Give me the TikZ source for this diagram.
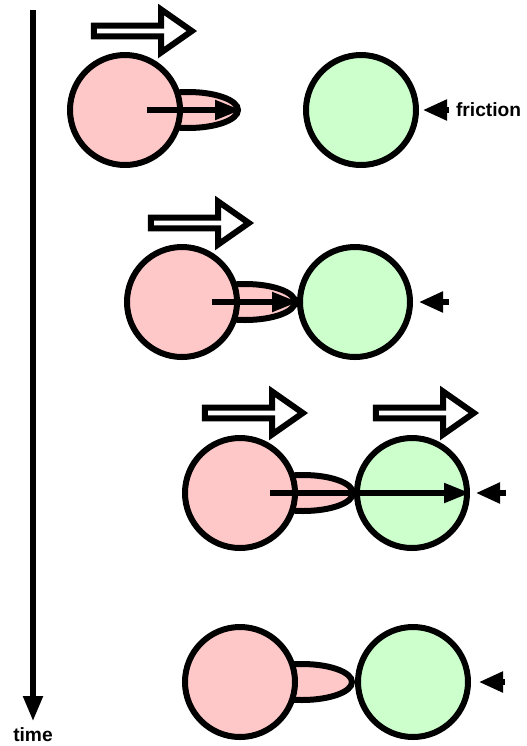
\documentclass[tikz,border=0pt]{standalone}
\usepackage{fontspec}
\setsansfont{Liberation Sans}
\usepackage{tikz}
\usetikzlibrary{arrows.meta,positioning,shapes.geometric,shapes.arrows}
\definecolor{moving}{HTML}{FFC8C8}
\definecolor{resting}{HTML}{CCFFCC}

\begin{document}
\begin{tikzpicture}[x=0.5pt, y=-0.5pt,
    ball/.style={circle, draw, line width=3pt, minimum size=55pt, inner sep=0pt},
    tail/.style={ellipse, draw, line width=3pt, fill=moving, minimum width=50pt, minimum height=18pt, inner sep=0pt},
    motion/.style={single arrow, draw, line width=3pt, fill=white, minimum height=49pt, minimum width=21.5pt,
        single arrow head extend=4.5pt, single arrow tip angle=70, inner sep=0pt},
    push/.style={line width=2.6pt, -{Triangle[length=13pt,width=9.5pt]}},
    fric/.style={line width=2.6pt, -{Triangle[length=12pt,width=10pt]}, shorten >=2pt},
    lbl/.style={font=\sffamily\bfseries\fontsize{9.6}{11}\selectfont}]
    \useasboundingbox (0,0) rectangle (526,746);
    % time axis
    \coordinate (t0) at (33,10);
    \node[lbl, anchor=north, inner sep=0pt] (tm) at (33,727) {time};
    \draw[line width=2.6pt, -{Triangle[length=12.5pt,width=9.5pt]}, shorten >=3pt] (t0) -- (tm);
    % row 1
    \node[tail] (e1) at (188,110) {};
    \node[ball, fill=moving] (p1) at (125,110) {};
    \node[ball, fill=resting] (g1) at (361,110) {};
    \node[motion] (m1) at (139,31) {};
    \coordinate (a1) at (147,110);
    \draw[push] (a1) -- (e1.east);
    \coordinate[right=15pt of g1.east] (f1);
    \draw[fric] (f1) -- (g1);
    \node[lbl, right=0pt of f1] (fr) {friction};
    % row 2
    \node[tail] (e2) at (245,302) {};
    \node[ball, fill=moving] (p2) at (182,302) {};
    \node[ball, fill=resting] (g2) at (355,302) {};
    \node[motion] (m2) at (196,223) {};
    \coordinate (a2) at (212,302);
    \draw[push] (a2) -- (e2.east);
    \coordinate[right=18pt of g2.east] (f2);
    \draw[fric, shorten >=3pt] (f2) -- (g2);
    % row 3
    \node[tail] (e3) at (303,493) {};
    \node[ball, fill=moving] (p3) at (240,493) {};
    \node[ball, fill=resting] (g3) at (412,493) {};
    \node[motion] (m3) at (250,413) {};
    \node[motion] (n3) at (421,413) {};
    \coordinate (a3) at (270,493);
    \draw[push] (a3) -- (g3.east);
    \coordinate[right=18pt of g3.east] (f3);
    \draw[fric, shorten >=3pt] (f3) -- (g3);
    % row 4
    \node[tail] (e4) at (302,682) {};
    \node[ball, fill=moving] (p4) at (240,682) {};
    \node[ball, fill=resting] (g4) at (413,682) {};
    \coordinate[right=17pt of g4.east] (f4);
    \draw[fric, shorten >=4pt] (f4) -- (g4);
\end{tikzpicture}
\end{document}
